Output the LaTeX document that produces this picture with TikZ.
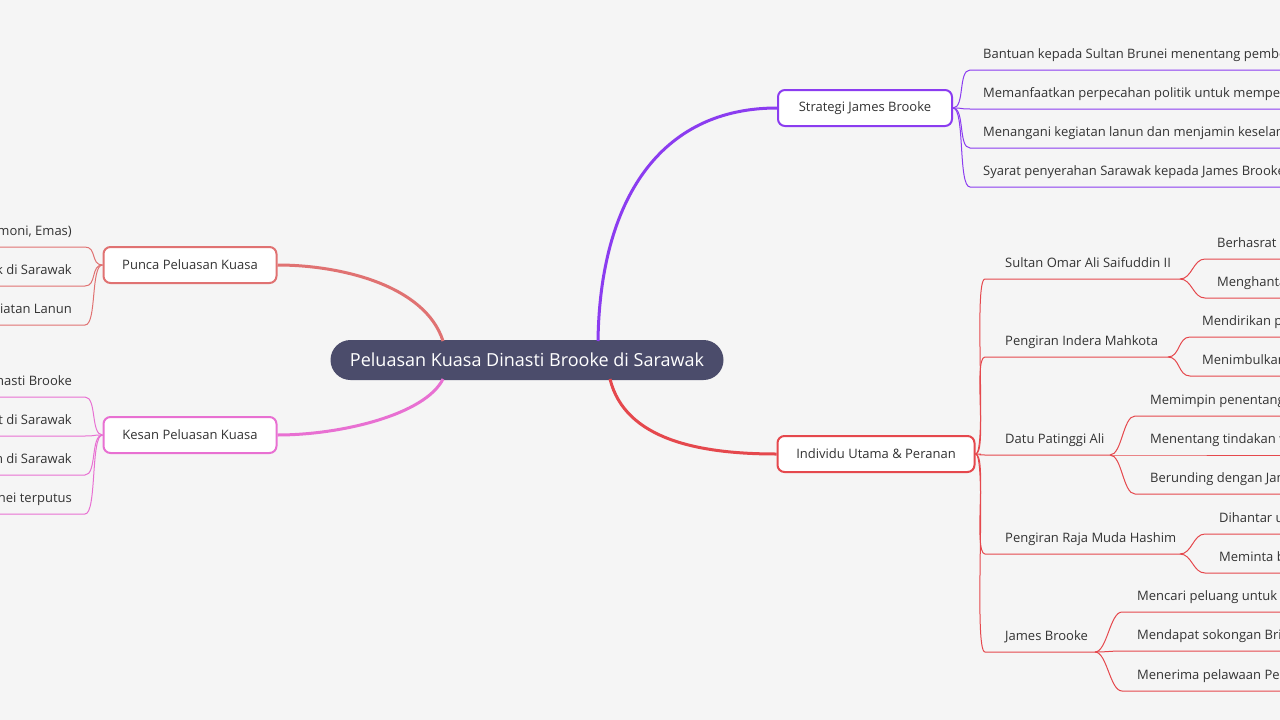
\documentclass[tikz,border=0pt]{standalone}
\usepackage{fontspec}
\setmainfont{Open Sans}
\definecolor{bgc}{HTML}{F5F5F5}
\definecolor{rootc}{HTML}{4B4C6B}
\definecolor{purc}{HTML}{8B3CF0}
\definecolor{redc}{HTML}{E5484D}
\definecolor{salc}{HTML}{E07272}
\definecolor{pinc}{HTML}{E870D2}
\definecolor{txtc}{HTML}{333333}
\tikzset{
  topic/.style = {shape=rectangle, rounded corners=7pt, draw=#1, line width=2pt, fill=white,
    minimum height=36pt, text=txtc, font=\fontsize{13}{15}\selectfont},
  leaf/.style = {anchor=base west, inner sep=0pt, text=txtc, font=\fontsize{13}{15}\selectfont},
  leafl/.style = {anchor=base east, inner sep=0pt, text=txtc, font=\fontsize{13}{15}\selectfont},
  link/.style = {draw=#1, line width=1pt},
  trunk/.style = {draw=#1, line width=3pt}
}
\newcommand\branch[5]{% colour, from, x0, y, x1
  \draw[link=#1] (#2) .. controls +(12,0) and (#3-12,#4) .. (#3,#4) -- (#5,#4);}
\begin{document}
\begin{tikzpicture}[x=1pt, y=-1pt]
  \fill[bgc] (0,0) rectangle (1280,720);
  \useasboundingbox (0,0) rectangle (1280,720);

  \node[fill=rootc, text=white, rounded corners=20pt, minimum width=393pt, minimum height=40pt,
    font=\fontsize{18}{20}\selectfont] (root) at (527,360) {Peluasan Kuasa Dinasti Brooke di Sarawak};

  \node[topic=purc, minimum width=174pt] (strat) at (865,108) {Strategi James Brooke};
  \node[topic=redc, minimum width=197pt] (indiv) at (876,454) {Individu Utama \& Peranan};
  \node[topic=salc, minimum width=173pt] (punca) at (190,265) {Punca Peluasan Kuasa};
  \node[topic=pinc, minimum width=173pt] (kesan) at (190,435) {Kesan Peluasan Kuasa};

  \coordinate (rtr) at (598,341);
  \coordinate (rbr) at (610,379);
  \coordinate (rtl) at (443,341);
  \coordinate (rbl) at (443,379);
  \draw[trunk=purc] (rtr) .. controls (600,200) and (660,108) .. (strat.west);
  \draw[trunk=redc] (rbr) .. controls (625,440) and (700,454) .. (indiv.west);
  \draw[trunk=salc] (rtl) .. controls (425,285) and (340,265) .. (punca.east);
  \draw[trunk=pinc] (rbl) .. controls (425,415) and (340,435) .. (kesan.east);

  % strategi
  \foreach \y/\t in {54/Bantuan kepada Sultan Brunei menentang pembe,
                     93/Memanfaatkan perpecahan politik untuk memper,
                     132/Menangani kegiatan lanun dan menjamin keselam,
                     171/Syarat penyerahan Sarawak kepada James Brooke} {
    \node[leaf] at (983,\y+4) {\t};
    \branch{purc}{strat.east}{970}{\y+16}{1280}
  }

  % individu
  \node[leaf] (sultan) at (1005,267) {Sultan Omar Ali Saifuddin II};
  \node[leaf] (indera) at (1005,345) {Pengiran Indera Mahkota};
  \node[leaf] (datu) at (1005,443) {Datu Patinggi Ali};
  \node[leaf] (hashim) at (1005,542) {Pengiran Raja Muda Hashim};
  \node[leaf] (james) at (1005,640) {James Brooke};
  \branch{redc}{indiv.east}{985}{279}{1180}
  \branch{redc}{indiv.east}{985}{357}{1168}
  \branch{redc}{indiv.east}{985}{455}{1110}
  \branch{redc}{indiv.east}{985}{554}{1180}
  \branch{redc}{indiv.east}{985}{652}{1095}

  \foreach \y/\t in {243/Berhasrat n, 282/Menghanta} {
    \node[leaf] at (1217,\y+4) {\t};
    \branch{redc}{1180,279}{1205}{\y+16}{1280}
  }
  \foreach \y/\t in {321/Mendirikan p, 360/Menimbulkan} {
    \node[leaf] at (1202,\y+4) {\t};
    \branch{redc}{1168,357}{1190}{\y+16}{1280}
  }
  \foreach \y/\t in {400/Memimpin penentang, 439/Menentang tindakan w, 478/Berunding dengan Jam} {
    \node[leaf] at (1150,\y+4) {\t};
    \branch{redc}{1110,455}{1135}{\y+16}{1280}
  }
  \foreach \y/\t in {518/Dihantar u, 557/Meminta b} {
    \node[leaf] at (1219,\y+4) {\t};
    \branch{redc}{1180,554}{1205}{\y+16}{1280}
  }
  \foreach \y/\t in {596/Mencari peluang untuk m, 635/Mendapat sokongan Brit, 675/Menerima pelawaan Per} {
    \node[leaf] at (1137,\y+4) {\t};
    \branch{redc}{1095,652}{1122}{\y+16}{1280}
  }

  % punca and kesan
  \foreach \y/\t in {231/moni{,} Emas), 270/k di Sarawak, 309/giatan Lanun} {
    \node[leafl] at (72,\y+4) {\t};
    \draw[link=salc] (punca.west) .. controls +(-12,0) and (97,\y+16) .. (85,\y+16) -- (0,\y+16);
  }
  \foreach \y/\t in {381/nasti Brooke, 420/t di Sarawak, 459/n di Sarawak, 498/nei terputus} {
    \node[leafl] at (72,\y+4) {\t};
    \draw[link=pinc] (kesan.west) .. controls +(-12,0) and (97,\y+16) .. (85,\y+16) -- (0,\y+16);
  }
\end{tikzpicture}
\end{document}
